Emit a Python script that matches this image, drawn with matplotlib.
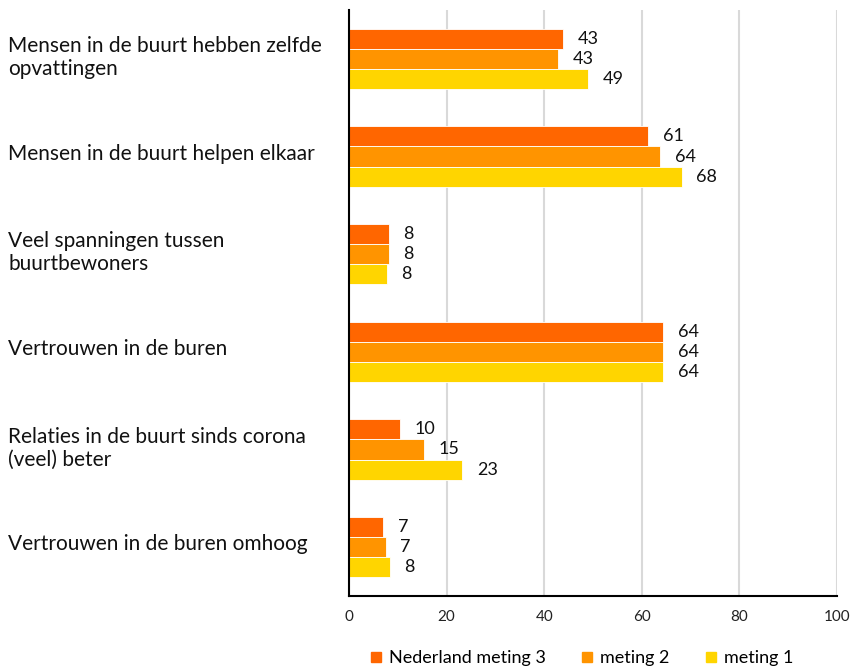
import matplotlib
matplotlib.use("Agg")
import matplotlib.pyplot as plt
import numpy as np
from matplotlib.lines import Line2D

categories = [
    "Mensen in de buurt hebben zelfde\nopvattingen",
    "Mensen in de buurt helpen elkaar",
    "Veel spanningen tussen\nbuurtbewoners",
    "Vertrouwen in de buren",
    "Relaties in de buurt sinds corona\n(veel) beter",
    "Vertrouwen in de buren omhoog",
]
series_names = ["Nederland meting 3", "meting 2", "meting 1"]
meting3 = [43.8, 61.3, 8.1, 64.4, 10.4, 7.0]
meting2 = [42.9, 63.8, 8.1, 64.4, 15.3, 7.5]
meting1 = [49.0, 68.2, 7.7, 64.4, 23.2, 8.3]
labels3 = [43, 61, 8, 64, 10, 7]
labels2 = [43, 64, 8, 64, 15, 7]
labels1 = [49, 68, 8, 64, 23, 8]
colors = ["#FF6600", "#FF9400", "#FFD500"]
xticks = [0, 20, 40, 60, 80, 100]

plt.rcParams['font.family'] = ['Lato', 'DejaVu Sans']

fig = plt.figure(figsize=(8.51, 6.69), dpi=100)
ax = fig.add_axes([349/851, 1-596/669, (837-349)/851, (596-10)/669])

y = np.arange(len(categories))
h = 0.207
series = [meting3, meting2, meting1]
labs = [labels3, labels2, labels1]
offsets = [-h, 0, h]
for vals, lab, off, col in zip(series, labs, offsets, colors):
    ax.barh(y + off, vals, height=h, color=col, edgecolor="#ffffff", linewidth=0.6, zorder=3)
    for yi, v, l in zip(y, vals, lab):
        ax.annotate(str(l), (v, yi + off), xytext=(10.5, 0), textcoords="offset points",
                    ha="left", va="center", fontsize=13, color="#111111")

ax.set_xlim(0, 100)
ax.set_ylim(len(categories) - 0.5, -0.5)
ax.set_xticks(xticks)
ax.set_xticklabels([str(t) for t in xticks], fontsize=11, color="#222222")
ax.set_yticks(y - 0.05)
ax.set_yticklabels(categories, fontsize=15, ha="left", linespacing=1.2, color="#111111")
ax.tick_params(axis="y", length=0, pad=(349-8)*0.72)
ax.tick_params(axis="x", length=0, pad=10)
ax.grid(axis="x", color="#d9d9d9", linewidth=1.5, zorder=0)
for s in ["top", "right"]:
    ax.spines[s].set_visible(False)
ax.spines["left"].set_color("#000000")
ax.spines["bottom"].set_color("#000000")
ax.spines["left"].set_linewidth(1.5)
ax.spines["bottom"].set_linewidth(1.5)
ax.spines["left"].set_zorder(5)

handles = [Line2D([0], [0], marker="s", linestyle="none", markersize=7.5,
                  markerfacecolor=c, markeredgecolor=c) for c in colors]
fig.legend(handles, series_names, loc="center", bbox_to_anchor=(581/851, 1-658/669),
           ncol=3, frameon=False, fontsize=13, handletextpad=0.3, columnspacing=1.9,
           handlelength=0.8)

fig.savefig("out.png", dpi=100)
